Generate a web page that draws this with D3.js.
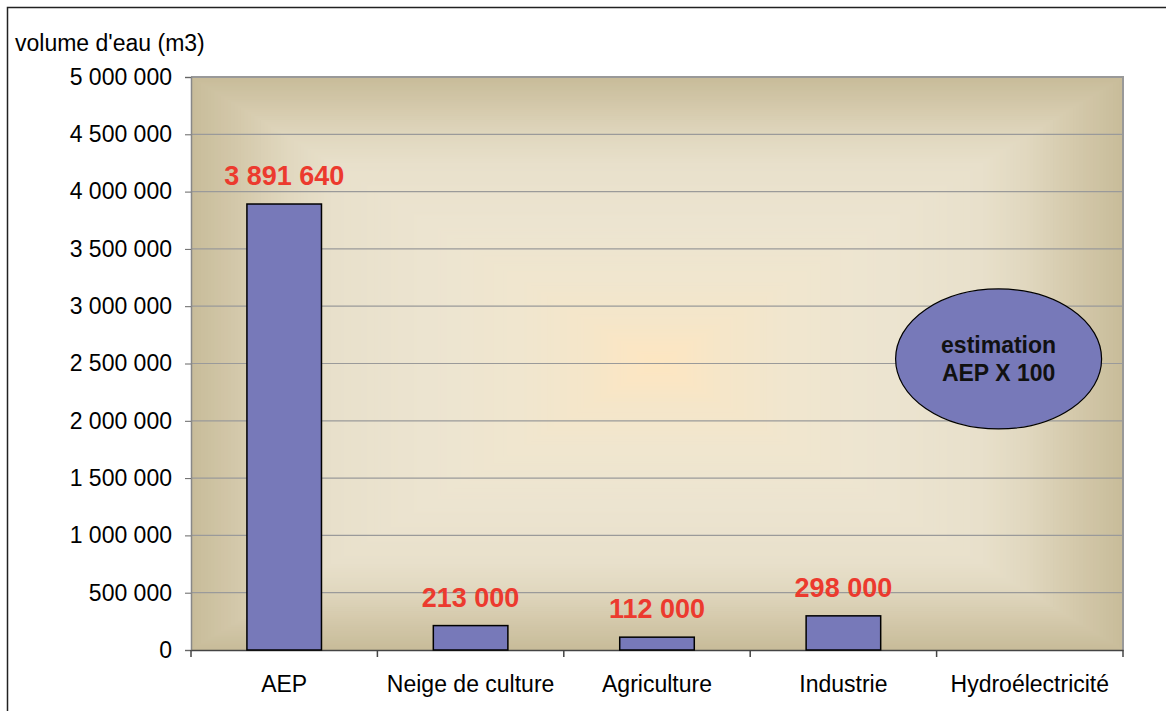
<!DOCTYPE html>
<html><head><meta charset="utf-8">
<script src="https://cdn.jsdelivr.net/npm/d3@7"></script>
<style>
body{margin:0;background:#fff;}
text{font-family:"Liberation Sans",Arial,sans-serif;}
</style></head>
<body><svg id="c" width="1166" height="711"></svg>
<script>
const categories = ["AEP","Neige de culture","Agriculture","Industrie","Hydroélectricité"];
const values = [3891640, 213000, 112000, 298000, null];
const yTicks = [0,500000,1000000,1500000,2000000,2500000,3000000,3500000,4000000,4500000,5000000];
const yTitle = "volume d'eau (m3)";
const noteLines = ["estimation","AEP X 100"];

const svg = d3.select("#c");
const loc = d3.formatLocale({decimal:",", thousands:"\u00a0", grouping:[3], currency:["","€"]});
const fmt = loc.format(",d");
const FONT = "Liberation Sans, Arial, sans-serif";

const m = {l:191, r:1123, t:77, b:650};
const x = d3.scaleBand().domain(categories).range([m.l, m.r]).padding(0);
const y = d3.scaleLinear().domain([0,5000000]).range([m.b, m.t]);

// frame
svg.append("rect").attr("x",7.5).attr("y",7.5).attr("width",1170).attr("height",720)
  .attr("fill","#fff").attr("stroke","#222").attr("stroke-width",1.5);

// rectangular "from centre" gradient background
const stops = [[0,"#fde6c1"],[0.06,"#fbe6c4"],[0.15,"#f5e6c9"],[0.3,"#f0e6cf"],[0.5,"#ece4d0"],
  [0.7,"#e8e0cb"],[0.8,"#e0d7be"],[0.9,"#d4c9ab"],[1,"#c8bc9a"]];
const col = d3.scaleLinear().domain(stops.map(s=>s[0])).range(stops.map(s=>s[1])).interpolate(d3.interpolateRgb);
const W = m.r-m.l, H = m.b-m.t, cx0 = (m.l+m.r)/2, cy0 = (m.t+m.b)/2;
const N = 140;
const bgG = svg.append("g");
bgG.selectAll("rect").data(d3.range(N,0,-1).map(i=>i/N)).join("rect")
  .attr("x",t=>cx0-t*W/2).attr("y",t=>cy0-t*H/2)
  .attr("width",t=>t*W).attr("height",t=>t*H)
  .attr("fill",t=>col(t));

// gridlines
svg.append("g").selectAll("line").data(yTicks.filter(d=>d>0)).join("line")
  .attr("x1",m.l).attr("x2",m.r).attr("y1",d=>y(d)).attr("y2",d=>y(d))
  .attr("stroke","#9a9a9a").attr("stroke-width",1.2);

// plot border top/right
svg.append("path").attr("d",`M${m.l},${m.t}H${m.r}V${m.b}`).attr("fill","none")
  .attr("stroke","#999").attr("stroke-width",2);

// y axis
const ya = svg.append("g").attr("transform",`translate(${m.l},0)`)
  .call(d3.axisLeft(y).tickValues(yTicks).tickFormat(fmt).tickSize(6).tickPadding(13));
ya.select(".domain").attr("stroke","#888").attr("stroke-width",1.5);
ya.selectAll(".tick line").attr("stroke","#666");
ya.selectAll("text").attr("font-size",23).attr("fill","#000").style("font-family",FONT);

// x axis
const xa = svg.append("g").attr("transform",`translate(0,${m.b})`)
  .call(d3.axisBottom(x).tickSize(0).tickPadding(26));
xa.select(".domain").attr("stroke","#444").attr("stroke-width",1.5);
xa.selectAll("text").attr("font-size",23).attr("fill","#000").style("font-family",FONT);
// boundary ticks
svg.append("g").selectAll("line").data(categories.concat([null])).join("line")
  .attr("x1",(d,i)=> i<categories.length ? x(d) : m.r)
  .attr("x2",(d,i)=> i<categories.length ? x(d) : m.r)
  .attr("y1",m.b).attr("y2",m.b+7).attr("stroke","#444").attr("stroke-width",1.5);

// bars
const bw = x.bandwidth()*0.4;
const data = categories.map((c,i)=>({c, v:values[i]})).filter(d=>d.v!=null);
svg.append("g").selectAll("rect").data(data).join("rect")
  .attr("x",d=>x(d.c)+(x.bandwidth()-bw)/2).attr("width",bw)
  .attr("y",d=>y(d.v)).attr("height",d=>m.b-y(d.v))
  .attr("fill","#7779b9").attr("stroke","#000").attr("stroke-width",1.5);

// value labels
svg.append("g").selectAll("text").data(data).join("text")
  .attr("x",d=>x(d.c)+x.bandwidth()/2).attr("y",d=>y(d.v)-19)
  .attr("text-anchor","middle").attr("font-size",27).attr("font-weight","bold")
  .attr("fill","#ec3a2e").text(d=>fmt(d.v));

// y title
svg.append("text").attr("x",15).attr("y",51).attr("font-size",23).attr("fill","#000").text(yTitle);

// note ellipse
const ex = x("Hydroélectricité") + 62, ey = y(2540000);
svg.append("ellipse").attr("cx",ex).attr("cy",ey).attr("rx",103).attr("ry",70)
  .attr("fill","#7779b9").attr("stroke","#000").attr("stroke-width",1.2);
svg.append("text").attr("x",ex).attr("y",ey-6).attr("text-anchor","middle")
  .attr("font-size",23).attr("font-weight","bold").attr("fill","#111").text(noteLines[0]);
svg.append("text").attr("x",ex).attr("y",ey+22).attr("text-anchor","middle")
  .attr("font-size",23).attr("font-weight","bold").attr("fill","#111").text(noteLines[1]);
</script></body></html>
